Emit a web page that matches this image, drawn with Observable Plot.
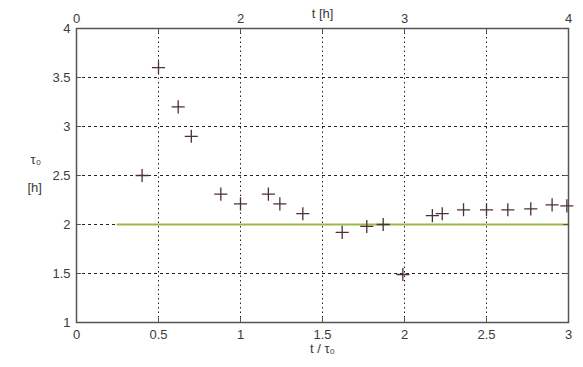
<!DOCTYPE html>
<html><head><meta charset="utf-8">
<script src="https://cdn.jsdelivr.net/npm/d3@7"></script>
<script src="https://cdn.jsdelivr.net/npm/@observablehq/plot@0.6"></script>
<style>
body{margin:0;background:#fff}
#chart svg{font-family:"Liberation Sans",Arial,sans-serif}
</style>
</head><body><div id="chart"></div>
<script>
// measured points: t / tau0 versus tau0 [h]
const tRatio = [0.40,0.50,0.62,0.70,0.88,1.00,1.17,1.24,1.38,1.62,1.77,1.87,1.99,2.17,2.23,2.36,2.50,2.63,2.77,2.90,2.99];
const tau0   = [2.50,3.60,3.20,2.90,2.31,2.21,2.31,2.21,2.11,1.92,1.98,2.00,1.49,2.09,2.11,2.15,2.15,2.15,2.16,2.20,2.19];
// reference level
const refX = [0.25, 3];
const refY = [2, 2];
// bottom axis ticks
const xTicks = [0, 0.5, 1, 1.5, 2, 2.5, 3];
const xTickLabels = ["0", "0.5", "1", "1.5", "2", "2.5", "3"];
// left axis ticks
const yTicks = [1, 1.5, 2, 2.5, 3, 3.5, 4];
const yTickLabels = ["1", "1.5", "2", "2.5", "3", "3.5", "4"];
// top axis (t [h])
const topTicks = [0, 1, 2, 3];
const topTickLabels = ["0", "2", "3", "4"];
// grid lines
const gridX = [0.5, 1, 1.5, 2, 2.5];
const gridY = [1.5, 2, 2.5, 3, 3.5];

const pts = tRatio.map((x, i) => ({x, y: tau0[i]}));
const ref = refX.map((x, i) => ({x, y: refY[i]}));
const txt = "#3a3a3a";

const chart = Plot.plot({
  width: 583,
  height: 367,
  marginLeft: 76,
  marginRight: 15,
  marginTop: 28,
  marginBottom: 45,
  style: {fontSize: "13px", background: "#fff"},
  x: {domain: [0, 3], axis: null},
  y: {domain: [1, 4], axis: null},
  marks: [
    Plot.ruleX(gridX, {stroke: "#222", strokeWidth: 1, strokeDasharray: "1.5,3"}),
    Plot.ruleY(gridY, {stroke: "#222", strokeWidth: 1, strokeDasharray: "3,3"}),
    Plot.line(ref, {x: "x", y: "y", stroke: "#9bbb40", strokeWidth: 2}),
    // inward tick marks
    Plot.ruleX(xTicks, {y1: 1, y2: 1.05, stroke: "#555"}),
    Plot.ruleX(xTicks, {y1: 4, y2: 3.95, stroke: "#555"}),
    Plot.ruleY(yTicks, {x1: 0, x2: 0.03, stroke: "#555"}),
    Plot.ruleY(yTicks, {x1: 3, x2: 2.97, stroke: "#555"}),
    Plot.frame({stroke: "#555", strokeWidth: 1.5}),
    Plot.dot(pts, {x: "x", y: "y", symbol: "plus", r: 4.3, stroke: "#4a3038", strokeWidth: 1.3}),
    // tick labels
    Plot.text(xTicks, {x: d => d, text: (d, i) => xTickLabels[i], frameAnchor: "bottom", dy: 16, fill: txt}),
    Plot.text(yTicks, {y: d => d, text: (d, i) => yTickLabels[i], frameAnchor: "left", dx: -6, textAnchor: "end", fill: txt}),
    Plot.text(topTicks, {x: d => d, text: (d, i) => topTickLabels[i], frameAnchor: "top", dy: -15, fill: txt}),
    // axis titles
    Plot.text(["t [h]"], {frameAnchor: "top", dy: -20, fill: txt}),
    Plot.text(["t / τ₀"], {frameAnchor: "bottom", dy: 30, fill: txt}),
    Plot.text(["τ₀"], {y: 2.66, frameAnchor: "left", dx: -46, fill: txt}),
    Plot.text(["[h]"], {y: 2.37, frameAnchor: "left", dx: -49, fill: txt})
  ]
});
document.getElementById("chart").appendChild(chart);
</script>
</body></html>
